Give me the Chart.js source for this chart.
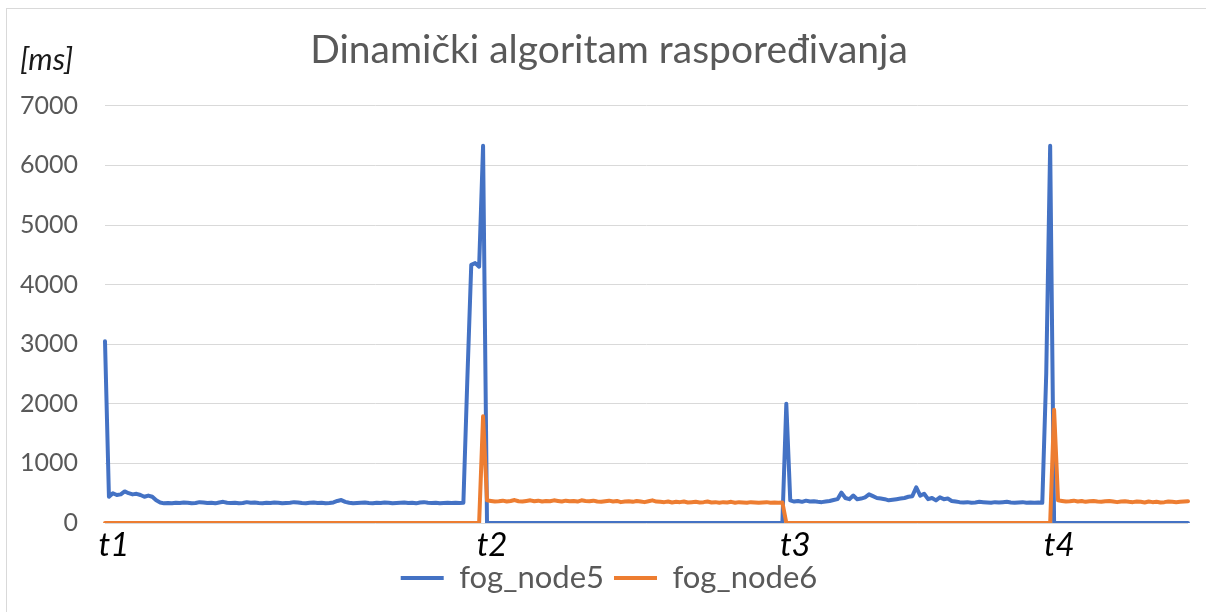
<!DOCTYPE html>
<html>
<head>
<meta charset="utf-8">
<script src="https://cdn.jsdelivr.net/npm/chart.js@4.4.1/dist/chart.umd.min.js"></script>
<style>
  html, body { margin: 0; padding: 0; background: #ffffff; overflow: hidden; }
  #wrap { position: relative; width: 1206px; height: 612px; }
  #frame { position: absolute; left: 6px; top: 8px; width: 1220px; height: 630px; border: 1.5px solid #d9d9d9; box-sizing: border-box; pointer-events: none; }
  #unit { position: absolute; left: 20px; top: 39px; font-family: Lato, sans-serif; font-style: italic; font-size: 31px; color: #1a1a1a; }
  canvas { position: absolute; left: 0; top: 0; }
</style>
</head>
<body>
<div id="wrap">
  <canvas id="c" width="1206" height="612"></canvas>
  <div id="frame"></div>
  <div id="unit">[ms]</div>
</div>
<script>
// ---- data ----
const titleText = 'Dinamički algoritam raspoređivanja';
const seriesNames = ['fog_node5', 'fog_node6'];
const tickPositions = [0, 96, 173, 240];
const tickNames = ['t1', 't2', 't3', 't4'];
const yTickValues = [0, 1000, 2000, 3000, 4000, 5000, 6000, 7000];

const fogNode5 = [
  3050, 440, 500, 470, 480, 530, 500, 480, 490, 470, 440, 460, 440, 380, 345,
  330, 335, 330, 340, 335, 345, 340, 330, 335, 350,
  345, 335, 340, 330, 345, 355, 340, 335, 340, 330,
  335, 350, 340, 345, 335, 330, 340, 335, 345, 340,
  330, 335, 340, 350, 345, 335, 330, 340, 345, 335,
  340, 330, 335, 345, 370, 385, 355, 340, 330, 335,
  340, 345, 335, 330, 340, 335, 345, 340, 330, 335,
  340, 345, 335, 340, 330, 345, 350, 340, 335, 340,
  330, 335, 340, 335, 340, 335, 340,
  2400, 4330, 4360, 4300, 6330,
  0, 0, 0, 0, 0, 0, 0, 0, 0, 0, 0, 0, 0, 0, 0, 0, 0, 0, 0, 0,
  0, 0, 0, 0, 0, 0, 0, 0, 0, 0, 0, 0, 0, 0, 0, 0, 0, 0, 0, 0,
  0, 0, 0, 0, 0, 0, 0, 0, 0, 0, 0, 0, 0, 0, 0, 0, 0, 0, 0, 0,
  0, 0, 0, 0, 0, 0, 0, 0, 0, 0, 0, 0, 0, 0, 0, 0,
  2000,
  380, 360, 370, 355, 375, 360, 365, 355, 350, 360, 370, 385, 400,
  510, 420, 400, 460, 400, 410, 430, 480, 450, 420,
  410, 400, 380, 390, 400, 410, 420, 440, 450, 600,
  460, 490, 400, 420, 380, 430, 400, 410, 370, 360,
  350, 345, 350, 340, 345, 355, 350, 345, 340, 350,
  345, 350, 355, 345, 340, 345, 350, 340, 345, 340, 345, 340,
  2500, 6330,
  0, 0, 0, 0, 0, 0, 0, 0, 0, 0, 0, 0, 0, 0, 0, 0, 0, 0, 0, 0,
  0, 0, 0, 0, 0, 0, 0, 0, 0, 0, 0, 0, 0, 0, 0
];

const fogNode6 = [
  0, 0, 0, 0, 0, 0, 0, 0, 0, 0, 0, 0, 0, 0, 0, 0, 0, 0, 0, 0,
  0, 0, 0, 0, 0, 0, 0, 0, 0, 0, 0, 0, 0, 0, 0, 0, 0, 0, 0, 0,
  0, 0, 0, 0, 0, 0, 0, 0, 0, 0, 0, 0, 0, 0, 0, 0, 0, 0, 0, 0,
  0, 0, 0, 0, 0, 0, 0, 0, 0, 0, 0, 0, 0, 0, 0, 0, 0, 0, 0, 0,
  0, 0, 0, 0, 0, 0, 0, 0, 0, 0, 0, 0, 0, 0, 0, 0,
  1790,
  380, 370, 360, 365, 375, 360, 370, 385, 365, 360,
  370, 380, 365, 375, 360, 370, 365, 380, 370, 360,
  375, 365, 370, 360, 380, 370, 365, 375, 360, 355,
  365, 375, 360, 370, 350, 360, 365, 355, 370, 360,
  350, 365, 380, 360, 355, 350, 360, 345, 355, 350,
  360, 345, 350, 355, 345, 350, 360, 345, 350, 340,
  350, 345, 355, 340, 350, 345, 340, 350, 345, 340,
  345, 350, 340, 345, 340, 345,
  0, 0, 0, 0, 0, 0, 0, 0, 0, 0, 0, 0, 0, 0, 0, 0, 0, 0, 0, 0,
  0, 0, 0, 0, 0, 0, 0, 0, 0, 0, 0, 0, 0, 0, 0, 0, 0, 0, 0, 0,
  0, 0, 0, 0, 0, 0, 0, 0, 0, 0, 0, 0, 0, 0, 0, 0, 0, 0, 0, 0,
  0, 0, 0, 0, 0, 0, 0, 0,
  1900,
  380,
  370, 360, 365, 375, 360, 370, 355, 365, 370, 360,
  355, 365, 370, 360, 350, 360, 365, 355, 350, 360,
  355, 345, 360, 350, 355, 345, 350, 360, 355, 350,
  355, 360, 365
];

const sampleIndex = fogNode5.map((_, i) => i);

const ctx = document.getElementById('c').getContext('2d');
new Chart(ctx, {
  type: 'line',
  data: {
    labels: sampleIndex,
    datasets: [
      { label: seriesNames[0], data: fogNode5, borderColor: '#4472C4', backgroundColor: '#4472C4',
        borderWidth: 4, pointRadius: 0, tension: 0, order: 1, borderJoinStyle: 'round', borderCapStyle: 'round' },
      { label: seriesNames[1], data: fogNode6, borderColor: '#ED7D31', backgroundColor: '#ED7D31',
        borderWidth: 4, pointRadius: 0, tension: 0, order: 0, borderJoinStyle: 'round', borderCapStyle: 'round' }
    ]
  },
  options: {
    responsive: false,
    animation: false,
    devicePixelRatio: 1,
    layout: { padding: { left: 15, right: 3, top: 0, bottom: 8.5 } },
    plugins: {
      tooltip: { enabled: false },
      title: {
        display: true, text: titleText, color: '#595959',
        font: { family: 'Lato', size: 39, weight: 'normal' },
        padding: { top: 27, bottom: 32 }
      },
      legend: {
        position: 'bottom',
        labels: {
          usePointStyle: true, pointStyle: 'line', pointStyleWidth: 43,
          color: '#595959', padding: 10,
          font: { family: 'Lato', size: 31 },
          sort: (a, b) => a.datasetIndex - b.datasetIndex
        }
      }
    },
    scales: {
      x: {
        type: 'category',
        offset: false,
        grid: { display: false, drawTicks: false },
        border: { display: false },
        afterBuildTicks: (scale) => { scale.ticks = tickPositions.map(v => ({ value: v })); },
        afterFit: (scale) => {
          scale.height = 29.5;
          scale._computeLabelArea = () => undefined; // do not clip the tick labels to the short axis box
        },
        ticks: {
          autoSkip: false, maxRotation: 0, padding: 3, labelOffset: 9,
          color: '#000000',
          font: { family: 'Lato', size: 33, style: 'italic' },
          callback: (value) => { const k = tickPositions.indexOf(value); return k >= 0 ? tickNames[k] : ''; }
        }
      },
      y: {
        min: 0, max: 7000,
        grid: { color: '#d9d9d9', lineWidth: 1, drawTicks: false },
        border: { display: false },
        afterBuildTicks: (scale) => { scale.ticks = yTickValues.map(v => ({ value: v })); },
        afterFit: (scale) => { scale.width = 90; },
        ticks: {
          padding: 27, color: '#595959',
          font: { family: 'Lato', size: 25 },
          callback: (v) => String(v)
        }
      },
      yRight: {
        position: 'right',
        display: true,
        min: 0, max: 7000,
        grid: { display: false, drawTicks: false },
        border: { display: false },
        ticks: { display: false },
        afterFit: (scale) => { scale.width = 15; }
      }
    }
  }
});
</script>
</body>
</html>
